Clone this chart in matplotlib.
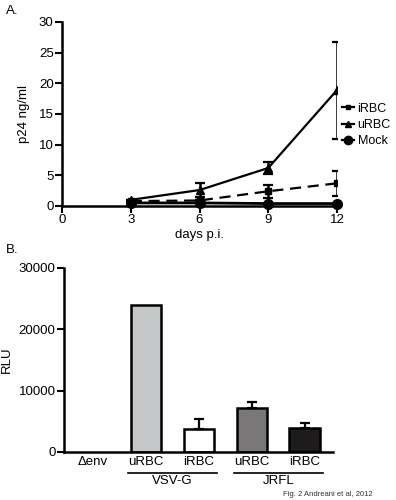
import numpy as np
import matplotlib
matplotlib.use('Agg')
import matplotlib.pyplot as plt
from matplotlib.lines import Line2D

plt.rcParams['font.family'] = ['Liberation Sans', 'DejaVu Sans']
plt.rcParams['font.size'] = 9.5

# --- panel A data: p24 over time ---
days = [3, 6, 9, 12]
irbc = [0.8, 0.9, 2.4, 3.7]
irbc_err = [0.0, 0.0, 1.1, 2.0]
urbc = [1.0, 2.6, 6.2, 18.9]
urbc_err = [0.0, 1.1, 1.0, 7.9]
mock = [0.5, 0.5, 0.4, 0.4]

# --- panel B data: RLU ---
bar_labels = ['\u0394env', 'uRBC', 'iRBC', 'uRBC', 'iRBC']
rlu = [0, 24000, 3700, 7200, 3900]
rlu_err = [0, 0, 1600, 1000, 800]
bar_colors = ['white', '#c4c6c8', 'white', '#7a7778', '#1e1b1c']
groups = ['VSV-G', 'JRFL']

fig = plt.figure(figsize=(3.96, 5.0), dpi=100)

# Panel A
ax1 = fig.add_axes([0.1566, 0.588, 0.6944, 0.368])
ax1.errorbar(days, irbc, yerr=irbc_err, color='black', ls=(0, (5, 3)), lw=1.6,
             marker='s', ms=4, capsize=3.5, capthick=1.6, elinewidth=1.8)
ax1.errorbar(days, urbc, yerr=urbc_err, color='black', ls='-', lw=1.6,
             marker='^', ms=6, capsize=3.5, capthick=1.6, elinewidth=1.8)
ax1.plot(days, mock, color='black', ls='-', lw=2, marker='o', ms=7, clip_on=False)
ax1.set_xlim(0, 12)
ax1.set_ylim(0, 30)
ax1.set_xticks([0, 3, 6, 9, 12])
ax1.set_yticks([0, 5, 10, 15, 20, 25, 30])
ax1.set_xlabel('days p.i.', labelpad=2)
ax1.set_ylabel('p24 ng/ml')
ax1.yaxis.set_label_coords(-0.115, 0.5)
handles = [Line2D([], [], color='black', lw=1.6, marker='s', ms=3),
           Line2D([], [], color='black', lw=1.6, marker='^', ms=5),
           Line2D([], [], color='black', lw=1.6, marker='o', ms=6)]
ax1.legend(handles, ['iRBC', 'uRBC', 'Mock'], loc='center left',
           bbox_to_anchor=(1.0, 0.44), frameon=False, fontsize=9,
           handlelength=1.0, handletextpad=0.25, labelspacing=0.35, borderaxespad=0)
for s in ['top', 'right']:
    ax1.spines[s].set_visible(False)
for s in ['left', 'bottom']:
    ax1.spines[s].set_linewidth(1.8)
ax1.tick_params(width=1.5, length=5, pad=1)

# Panel B
ax2 = fig.add_axes([0.1616, 0.096, 0.679, 0.368])
x = np.arange(len(rlu))
ax2.bar(x, rlu, width=0.58, color=bar_colors, edgecolor='black',
        linewidth=[0] + [1.8] * (len(rlu) - 1))
has_err = [i for i, e in enumerate(rlu_err) if e > 0]
ax2.errorbar([x[i] for i in has_err], [rlu[i] for i in has_err],
             yerr=[[0] * len(has_err), [rlu_err[i] for i in has_err]],
             fmt='none', ecolor='black', elinewidth=1.6, capsize=3.5, capthick=1.6)
ax2.set_xlim(-0.55, 4.53)
ax2.set_ylim(0, 30000)
ax2.set_yticks([0, 10000, 20000, 30000])
ax2.set_xticks(x)
ax2.set_xticklabels(bar_labels)
ax2.set_ylabel('RLU')
ax2.yaxis.set_label_coords(-0.19, 0.5)
for s in ['top', 'right']:
    ax2.spines[s].set_visible(False)
for s in ['left', 'bottom']:
    ax2.spines[s].set_linewidth(1.8)
ax2.tick_params(axis='y', width=1.5, length=5, pad=1)
ax2.tick_params(axis='x', length=0, pad=3)

# group lines under bar labels
for gi, g in enumerate(groups):
    x0, x1 = 1 + 2 * gi - 0.34, 2 + 2 * gi + 0.34
    ax2.plot([x0, x1], [-0.115, -0.115], color='black', lw=1.2,
             transform=ax2.get_xaxis_transform(), clip_on=False)
    ax2.text((x0 + x1) / 2, -0.125, g, ha='center', va='top',
             transform=ax2.get_xaxis_transform())

fig.text(0.015, 0.978, 'A.', ha='left', va='center', fontsize=9.5)
fig.text(0.015, 0.50, 'B.', ha='left', va='center', fontsize=9.5)
fig.text(0.94, 0.012, 'Fig. 2 Andreani et al, 2012', ha='right', va='center',
         fontsize=5.5, color='#333333')

fig.savefig('out.png', dpi=100)
